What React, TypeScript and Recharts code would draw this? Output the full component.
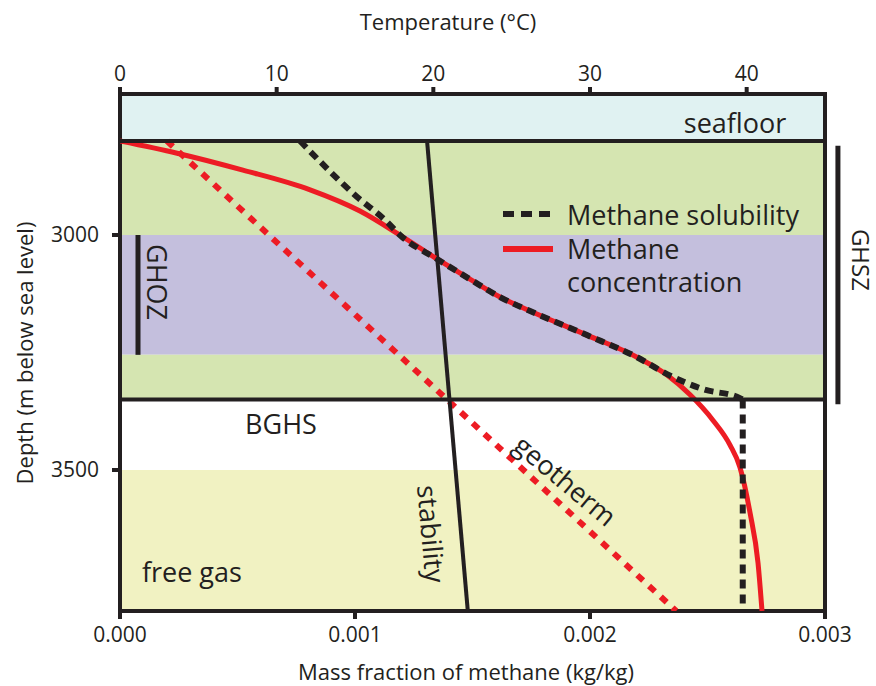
import { ComposedChart, Line, XAxis, YAxis, ReferenceArea, ReferenceLine, ReferenceDot } from "recharts"

const FONT = "'Open Sans', sans-serif"
const INK = "#231f20"
const RED = "#ed1c24"

// zones (depth, m below sea level)
const zoneNames = ["seafloor", "upper GHSZ", "GHOZ", "lower GHSZ", "BGHS", "free gas"]
const zoneTop = [2700, 2800, 3000, 3255, 3350, 3500]
const zoneBase = [2800, 3000, 3255, 3350, 3500, 3800]
const zoneColors = ["#e0f2f2", "#d5e5b1", "#c4bfdd", "#d5e5b1", "#ffffff", "#f1f2c2"]

// methane concentration (kg/kg) vs depth
const concDepth = [2800, 2826, 2862, 2904, 2949, 3000, 3051, 3094, 3132, 3168, 3213, 3260, 3298, 3340, 3394, 3447, 3494, 3591, 3698, 3800]
const concFraction = [0, 0.000243, 0.000523, 0.000809, 0.001021, 0.001191, 0.001349, 0.001489, 0.001617, 0.001774, 0.001987, 0.0022, 0.002328, 0.002426, 0.002523, 0.002596, 0.002638, 0.002681, 0.002715, 0.002732]

// solubility above the BGHS, then constant below it
const solDepth = [2800, 2919, 2972, 3000, 3051, 3094, 3132, 3168, 3213, 3260, 3296, 3328, 3347, 3350]
const solFraction = [0.000766, 0.001009, 0.001136, 0.001191, 0.001349, 0.001489, 0.001617, 0.001774, 0.001987, 0.0022, 0.002328, 0.002481, 0.002638, 0.00265]
const solBelowDepth = [3350, 3800]
const solBelowFraction = [0.00265, 0.00265]

// temperature lines (°C)
const geoDepth = [2800, 3800]
const geoTemp = [3.0, 35.5]
const stabDepth = [2800, 3800]
const stabTemp = [19.6, 22.2]

const fractionTicks = [0, 0.001, 0.002, 0.003]
const tempTicks = [0, 10, 20, 30, 40]
const depthTicks = [3000, 3500]

const concData = concDepth.map((d, i) => ({ x: concFraction[i], d }))
const solData = solDepth.map((d, i) => ({ x: solFraction[i], d }))
const solBelowData = solBelowDepth.map((d, i) => ({ x: solBelowFraction[i], d }))
const geoData = geoDepth.map((d, i) => ({ t: geoTemp[i], d }))
const stabData = stabDepth.map((d, i) => ({ t: stabTemp[i], d }))

const labelStyle = { fontSize: 27, fill: INK, fontFamily: FONT }

function LegendBox() {
  return (
    <div style={{ position: "absolute", left: 503, top: 196, fontFamily: FONT, fontSize: 27, color: INK, lineHeight: "33px" }}>
      <div style={{ display: "flex", alignItems: "center", height: 36 }}>
        <svg width={64} height={10}>
          <line x1={0} y1={5} x2={50} y2={5} stroke={INK} strokeWidth={6} strokeDasharray="11 7" />
        </svg>
        <span>Methane solubility</span>
      </div>
      <div style={{ display: "flex", alignItems: "flex-start" }}>
        <svg width={64} height={33}>
          <line x1={0} y1={17} x2={50} y2={17} stroke={RED} strokeWidth={6} />
        </svg>
        <span>Methane<br />concentration</span>
      </div>
    </div>
  )
}

export default function App() {
  return (
    <div style={{ position: "absolute", left: 0, top: 0, width: 876, height: 686, background: "#fff" }}>
      <ComposedChart width={876} height={686} margin={{ top: 64, right: 21, bottom: 45, left: 60 }}>
        <XAxis
          type="number"
          dataKey="x"
          domain={[0, 0.003]}
          ticks={fractionTicks}
          tickFormatter={(v: number) => v.toFixed(3)}
          allowDataOverflow
          height={30}
          axisLine={false}
          tickSize={8}
          tickMargin={8}
          tickLine={{ stroke: INK, strokeWidth: 4 }}
          tick={{ fontSize: 21, fill: INK, fontFamily: FONT }}
        />
        <XAxis
          xAxisId="temp"
          orientation="top"
          type="number"
          dataKey="t"
          domain={[0, 45]}
          ticks={tempTicks}
          allowDataOverflow
          height={30}
          axisLine={false}
          tickSize={7}
          tickMargin={6}
          tickLine={{ stroke: INK, strokeWidth: 4 }}
          tick={{ fontSize: 21, fill: INK, fontFamily: FONT }}
        />
        <YAxis
          type="number"
          dataKey="d"
          domain={[2700, 3800]}
          reversed
          ticks={depthTicks}
          allowDataOverflow
          width={60}
          axisLine={false}
          tickSize={8}
          tickMargin={13}
          tickLine={{ stroke: INK, strokeWidth: 4 }}
          tick={{ fontSize: 21, fill: INK, fontFamily: FONT }}
        />
        <YAxis
          yAxisId="right"
          orientation="right"
          type="number"
          domain={[2700, 3800]}
          reversed
          ticks={[3500]}
          tickFormatter={() => ""}
          width={30}
          axisLine={false}
          tickSize={7}
          tickLine={{ stroke: INK, strokeWidth: 4 }}
        />

        {zoneNames.map((name, i) => (
          <ReferenceArea
            key={name}
            x1={0}
            x2={0.003}
            y1={zoneTop[i]}
            y2={zoneBase[i]}
            fill={zoneColors[i]}
            fillOpacity={1}
            stroke="none"
          />
        ))}

        <Line data={geoData} xAxisId="temp" dataKey="d" type="linear" stroke={RED} strokeWidth={6} strokeDasharray="8 8" dot={false} activeDot={false} isAnimationActive={false} />
        <Line data={stabData} xAxisId="temp" dataKey="d" type="linear" stroke={INK} strokeWidth={4} dot={false} activeDot={false} isAnimationActive={false} />
        <Line data={concData} dataKey="d" type="monotoneX" stroke={RED} strokeWidth={5} dot={false} activeDot={false} isAnimationActive={false} />
        <Line data={solData} dataKey="d" type="monotoneX" stroke={INK} strokeWidth={6} strokeDasharray="9 6" dot={false} activeDot={false} isAnimationActive={false} />
        <Line data={solBelowData} dataKey="d" type="linear" stroke={INK} strokeWidth={6} strokeDasharray="9 6" dot={false} activeDot={false} isAnimationActive={false} />

        <ReferenceLine y={2800} stroke={INK} strokeWidth={4} />
        <ReferenceLine y={3350} stroke={INK} strokeWidth={4} />
        <ReferenceArea x1={0} x2={0.003} y1={2700} y2={3800} fill="none" fillOpacity={0} stroke={INK} strokeWidth={4} />

        <ReferenceLine segment={[{ x: 0.0000766, y: 3000 }, { x: 0.0000766, y: 3255 }]} stroke={INK} strokeWidth={5} ifOverflow="visible" />
        <ReferenceLine segment={[{ x: 0.003055, y: 2810 }, { x: 0.003055, y: 3360 }]} stroke={INK} strokeWidth={5} ifOverflow="visible" />

        <ReferenceDot x={0.002617} y={2762} r={1} fill="none" stroke="none" label={{ value: "seafloor", position: "center", ...labelStyle }} />
        <ReferenceDot x={0.000157} y={3100} r={1} fill="none" stroke="none" label={{ value: "GHOZ", position: "center", angle: 90, ...labelStyle }} />
        <ReferenceDot x={0.00315} y={3053} r={1} fill="none" stroke="none" ifOverflow="visible" label={{ value: "GHSZ", position: "center", angle: 90, ...labelStyle, fontSize: 24 }} />
        <ReferenceDot x={0.000685} y={3404} r={1} fill="none" stroke="none" label={{ value: "BGHS", position: "center", ...labelStyle }} />
        <ReferenceDot x={0.000306} y={3717} r={1} fill="none" stroke="none" label={{ value: "free gas", position: "center", ...labelStyle }} />
        <ReferenceDot x={0.001323} y={3636} r={1} fill="none" stroke="none" label={{ value: "stability", position: "center", angle: 85, ...labelStyle }} />
        <ReferenceDot x={0.001894} y={3523} r={1} fill="none" stroke="none" label={{ value: "geotherm", position: "center", angle: 40, ...labelStyle }} />

        <text x={448} y={30} textAnchor="middle" fontSize={22} fill={INK} fontFamily={FONT}>Temperature (°C)</text>
        <text x={466} y={680} textAnchor="middle" fontSize={22} fill={INK} fontFamily={FONT}>Mass fraction of methane (kg/kg)</text>
        <text x={24} y={353} textAnchor="middle" dominantBaseline="central" transform="rotate(-90 24 353)" fontSize={22} fill={INK} fontFamily={FONT}>Depth (m below sea level)</text>
      </ComposedChart>
      <LegendBox />
    </div>
  )
}
